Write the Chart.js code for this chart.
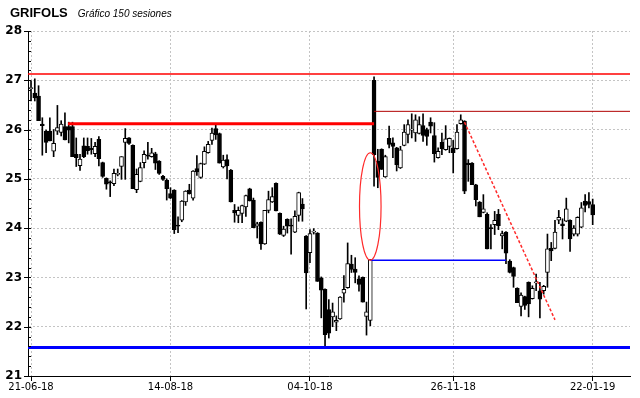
<!DOCTYPE html>
<html>
<head>
<meta charset="utf-8">
<script src="https://cdn.jsdelivr.net/npm/chart.js@4.4.1/dist/chart.umd.min.js"></script>
<style>
  html, body { margin: 0; padding: 0; background: #fff; }
  #wrap { position: relative; width: 640px; height: 398px; }
  #title { position: absolute; left: 10px; top: 3px; font-family: "Liberation Sans", Arial, sans-serif; color: #000; white-space: nowrap; }
  #title b { font-size: 13px; }
  #title i { font-size: 10px; margin-left: 10px; }
</style>
</head>
<body>
<div id="wrap">
  <canvas id="grifols-chart" width="640" height="398"></canvas>
  <div id="title"><b>GRIFOLS</b><i>Gráfico 150 sesiones</i></div>
</div>
<script>
const chartCanvas = document.getElementById("grifols-chart")

// 150 sessions, open / high / low / close

const opens = [
  26.83, 26.74, 26.68, 26.11, 25.97, 25.97, 25.56, 25.97, 25.94, 26.06,
  26.06, 26.06, 25.5, 25.27, 25.67, 25.66, 25.62, 25.51, 25.8, 25.33,
  25.01, 24.93, 24.9, 25.09, 25.25, 25.74, 25.83, 25.68, 24.78, 24.95,
  25.33, 25.47, 25.45, 25.51, 25.36, 25.05, 24.97, 24.7, 24.77, 24.06,
  24.16, 24.53, 24.77, 24.61, 25.21, 25.03, 25.3, 25.53, 25.78, 26.02,
  25.92, 25.24, 25.39, 25.18, 24.36, 24.26, 24.3, 24.43, 24.8, 24.57,
  24.04, 24.12, 23.68, 24.36, 24.53, 24.91, 24.3, 23.85, 24.18, 24.06,
  23.92, 24.26, 24.49, 23.84, 23.5, 23.92, 23.9, 22.99, 22.76, 22.35,
  22.2, 22.09, 22.16, 22.68, 22.79, 23.27, 23.17, 22.97, 23.0, 22.21,
  22.13, 27.0, 25.36, 25.6, 25.04, 25.82, 25.73, 25.63, 25.22, 25.68,
  25.9, 25.99, 25.93, 25.92, 26.08, 26.0, 26.15, 25.88, 25.43, 25.74,
  25.59, 25.66, 25.63, 25.61, 26.12, 26.17, 25.32, 25.32, 24.88, 24.53,
  24.32, 24.28, 24.0, 24.07, 24.28, 23.84, 23.92, 23.33, 23.2, 22.78,
  22.41, 22.61, 22.9, 22.57, 22.89, 22.73, 22.73, 23.1, 23.59, 23.59,
  24.16, 24.09, 24.14, 24.16, 23.88, 23.88, 24.02, 24.55, 24.54, 24.48,
]
const highs = [
  26.99, 27.03, 26.89, 26.24, 25.99, 26.24, 26.0, 26.49, 26.18, 26.34,
  26.15, 26.15, 25.83, 25.5, 25.83, 25.83, 25.82, 25.74, 25.86, 25.34,
  25.02, 24.96, 25.2, 25.2, 25.45, 26.02, 25.84, 25.69, 25.2, 25.33,
  25.57, 25.74, 25.62, 25.54, 25.37, 25.07, 25.0, 24.82, 24.78, 24.23,
  24.56, 24.76, 24.89, 25.17, 25.47, 25.32, 25.65, 25.76, 26.03, 26.11,
  25.93, 25.48, 25.49, 25.19, 24.48, 24.43, 24.47, 24.67, 24.81, 24.61,
  24.12, 24.13, 24.36, 24.75, 24.82, 24.92, 24.31, 24.04, 24.19, 24.19,
  24.35, 24.73, 24.6, 23.85, 23.97, 23.99, 23.91, 23.01, 22.77, 22.55,
  22.48, 22.22, 22.61, 23.04, 23.7, 23.45, 23.4, 23.03, 23.01, 22.5,
  23.36, 27.07, 25.6, 25.61, 25.48, 26.07, 25.83, 25.64, 25.66, 26.1,
  26.2, 26.32, 26.3, 26.26, 26.32, 26.03, 26.24, 26.14, 25.63, 25.93,
  26.08, 25.83, 25.78, 26.1, 26.3, 26.18, 25.39, 25.33, 24.89, 24.54,
  24.68, 24.31, 24.07, 24.34, 24.38, 23.94, 23.93, 23.36, 23.21, 22.79,
  22.69, 22.62, 22.91, 22.83, 23.07, 22.9, 22.84, 23.88, 23.71, 24.16,
  24.36, 24.19, 24.61, 24.17, 24.05, 24.23, 24.52, 24.68, 24.72, 24.59,
]
const lows = [
  26.58, 26.58, 26.18, 25.48, 25.53, 25.77, 25.45, 25.9, 25.87, 25.79,
  25.73, 25.45, 25.25, 25.17, 25.43, 25.5, 25.5, 25.45, 25.26, 25.03,
  24.79, 24.64, 24.86, 25.06, 24.99, 24.99, 25.7, 24.8, 24.72, 24.94,
  25.22, 25.4, 25.44, 25.19, 25.09, 24.97, 24.57, 24.6, 23.89, 23.91,
  24.13, 24.46, 24.69, 24.57, 25.07, 25.01, 25.29, 25.52, 25.7, 25.8,
  25.32, 25.22, 25.0, 24.53, 24.12, 24.11, 24.11, 24.24, 24.55, 24.01,
  23.8, 23.57, 23.67, 24.31, 24.52, 24.35, 23.87, 23.83, 23.9, 23.47,
  23.91, 24.14, 24.14, 22.36, 23.3, 23.88, 22.92, 22.18, 21.57, 21.77,
  22.0, 21.92, 22.15, 22.5, 22.78, 23.1, 22.89, 22.72, 22.5, 21.83,
  22.02, 24.85, 24.82, 25.19, 25.03, 25.63, 25.43, 25.16, 25.21, 25.67,
  25.73, 25.83, 25.76, 25.91, 25.76, 25.68, 25.93, 25.34, 25.42, 25.49,
  25.58, 25.53, 25.12, 25.6, 26.11, 24.7, 24.95, 24.88, 24.45, 24.23,
  24.31, 23.58, 23.58, 23.87, 23.97, 23.58, 23.28, 23.09, 22.8, 22.49,
  22.22, 22.35, 22.2, 22.56, 22.73, 22.18, 22.66, 22.8, 23.34, 23.58,
  24.09, 23.78, 24.13, 23.53, 23.84, 23.84, 24.01, 24.33, 24.41, 24.07,
]
const closes = [
  26.85, 26.64, 26.18, 26.08, 25.74, 25.77, 25.72, 26.04, 26.11, 25.79,
  25.99, 25.45, 25.43, 25.4, 25.45, 25.57, 25.59, 25.66, 25.41, 25.05,
  24.89, 24.92, 25.11, 25.11, 25.45, 25.82, 25.72, 24.8, 25.09, 25.23,
  25.5, 25.46, 25.53, 25.32, 25.11, 24.99, 24.8, 24.61, 23.97, 24.04,
  24.55, 24.75, 24.7, 25.16, 25.14, 25.31, 25.56, 25.7, 25.93, 25.89,
  25.32, 25.38, 25.26, 24.53, 24.31, 24.36, 24.46, 24.66, 24.55, 24.01,
  24.09, 23.68, 24.36, 24.58, 24.64, 24.35, 23.88, 23.98, 24.04, 24.04,
  24.24, 24.72, 24.39, 23.09, 23.89, 23.94, 22.92, 22.74, 21.84, 21.87,
  22.3, 22.13, 22.6, 22.76, 23.28, 23.16, 23.1, 22.86, 22.5, 22.3,
  23.36, 25.49, 25.03, 25.19, 25.45, 25.7, 25.66, 25.29, 25.59, 25.95,
  26.1, 26.01, 26.2, 26.1, 25.88, 25.86, 26.07, 25.51, 25.56, 25.61,
  25.81, 25.82, 25.53, 25.95, 26.2, 24.75, 25.29, 24.88, 24.58, 24.23,
  24.39, 23.58, 23.99, 24.16, 24.05, 23.89, 23.49, 23.1, 23.02, 22.49,
  22.64, 22.43, 22.46, 22.78, 22.9, 22.56, 22.82, 23.58, 23.54, 23.92,
  24.22, 24.05, 24.39, 23.78, 24.0, 24.22, 24.41, 24.46, 24.48, 24.27,
]

// date ticks on the x axis (session index -> label)

const dateTickIndex = [0, 37, 74, 112, 149]
const dateTickLabels = ["21-06-18", "14-08-18", "04-10-18", "26-11-18", "22-01-19"]

// drawn support / resistance levels

const levelValues = [27.13, 26.12, 26.37, 23.35, 21.58]
const levelStarts = [-0.8, 9.8, 91, 90, -0.8]
const levelEnds = [158.9, 91, 158.9, 126, 158.9]
const levelColors = ["#ff0000", "#ff0000", "#b00000", "#0000ff", "#0000ff"]
const levelWidths = [1.5, 3, 1, 1.5, 3]

// dashed trend line
const trendSessions = [115, 139]
const trendValues = [26.15, 22.14]

// ellipse around the gap
const gapEllipse = { session: 90, value: 24.44, rx: 2.86, ry: 1.09 }

const isWhole = (v) => Math.abs(v - Math.round(v)) < 1e-6
const sessions = opens.map((o, i) => i)

const levelDatasets = levelValues.map((v, k) => ({
  type: "line",
  data: [
    { x: levelStarts[k], y: v },
    { x: levelEnds[k], y: v },
  ],
  borderColor: levelColors[k],
  borderWidth: levelWidths[k],
  pointRadius: 0,
}))

const trendDataset = {
  type: "line",
  data: trendSessions.map((s, k) => ({ x: s, y: trendValues[k] })),
  borderColor: "#ff2a2a",
  borderWidth: 1.5,
  borderDash: [3, 2],
  pointRadius: 0,
}

const bodyDataset = {
  type: "bar",
  data: sessions.map((i) => ({ x: i, y: [opens[i], closes[i]] })),
  backgroundColor: sessions.map((i) => (closes[i] >= opens[i] ? "#ffffff" : "#000000")),
  borderColor: "#000000",
  borderWidth: 1,
  borderSkipped: false,
  barThickness: 4,
  minBarLength: 1,
  grouped: false,
}

const wickDataset = {
  type: "bar",
  data: sessions.map((i) => ({ x: i, y: [lows[i], highs[i]] })),
  backgroundColor: "#000000",
  borderWidth: 0,
  barThickness: 1,
  minBarLength: 1,
  grouped: false,
}

// ellipse + small ticks on the value axis

const ellipsePlugin = {
  id: "gapEllipse",
  afterDatasetsDraw(chart) {
    const { ctx, scales: { x, y } } = chart
    const cx = x.getPixelForValue(gapEllipse.session)
    const cy = y.getPixelForValue(gapEllipse.value)
    const rx = x.getPixelForValue(gapEllipse.session + gapEllipse.rx) - cx
    const ry = cy - y.getPixelForValue(gapEllipse.value + gapEllipse.ry)
    ctx.save()
    ctx.strokeStyle = "#ff2a2a"
    ctx.lineWidth = 1.2
    ctx.beginPath()
    ctx.ellipse(cx, cy, rx, ry, 0, 0, Math.PI * 2)
    ctx.stroke()
    ctx.restore()
  },
}

const yTicksPlugin = {
  id: "yTicks",
  afterDraw(chart) {
    const { ctx, chartArea, scales: { y } } = chart
    ctx.save()
    ctx.strokeStyle = "#000"
    ctx.lineWidth = 1
    y.ticks.forEach((t) => {
      const py = Math.round(y.getPixelForValue(t.value)) + 0.5
      ctx.beginPath()
      ctx.moveTo(chartArea.left - (isWhole(t.value) ? 4 : 0), py)
      ctx.lineTo(chartArea.left + 3, py)
      ctx.stroke()
    })
    ctx.restore()
  },
}

let grifolsChart = new Chart(chartCanvas, {
  type: "bar",
  data: {
    datasets: [...levelDatasets, trendDataset, bodyDataset, wickDataset],
  },
  options: {
    responsive: false,
    animation: false,
    events: [],
    devicePixelRatio: 1,
    layout: { padding: { top: 31, right: 10, left: 0, bottom: 0 } },
    scales: {
      x: {
        type: "linear",
        min: -0.8,
        max: 158.9,
        offset: false,
        afterBuildTicks: (s) => {
          s.ticks = dateTickIndex.map((v) => ({ value: v }))
        },
        afterFit: (s) => {
          s.height = 22
        },
        ticks: {
          autoSkip: false,
          maxRotation: 0,
          padding: 0,
          color: "#000",
          font: { family: "DejaVu Sans", size: 10 },
          callback: (v, i) => dateTickLabels[i],
        },
        grid: { offset: false, color: "#c4c4c4", tickColor: "#000", tickLength: 5 },
        border: { color: "#000", width: 1, dash: [2, 2] },
      },
      y: {
        min: 21,
        max: 28,
        afterFit: (s) => {
          s.width = 28
        },
        ticks: {
          stepSize: 0.2,
          autoSkip: false,
          maxTicksLimit: 100,
          padding: 2,
          color: "#000",
          font: { family: "DejaVu Sans", size: 12, weight: "bold" },
          callback: (v) => (isWhole(v) ? Math.round(v) : ""),
        },
        grid: {
          color: (c) => (isWhole(c.tick.value) ? "#c4c4c4" : "rgba(0,0,0,0)"),
          tickColor: "rgba(0,0,0,0)",
          tickLength: 4,
        },
        border: { color: "#000", width: 1, dash: [2, 2] },
      },
    },
    plugins: {
      legend: { display: false },
      tooltip: { enabled: false },
    },
  },
  plugins: [ellipsePlugin, yTicksPlugin],
})
</script>
</body>
</html>
